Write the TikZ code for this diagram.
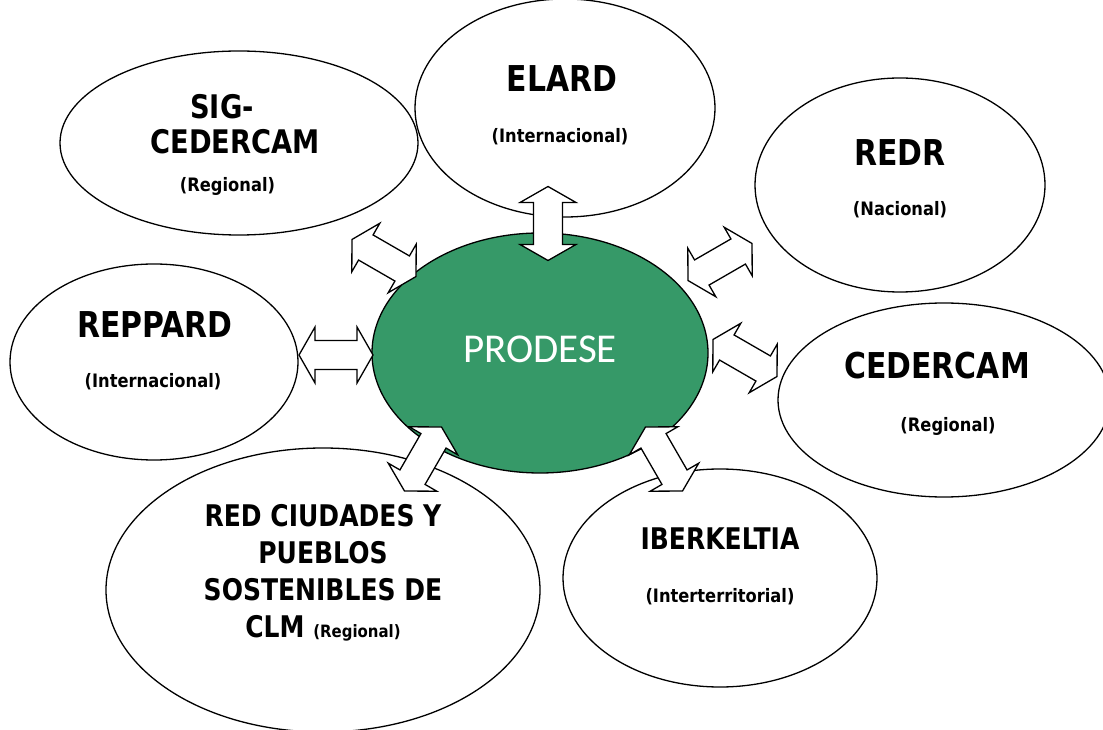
\documentclass[tikz,border=0pt]{standalone}
\usepackage{fontspec}
\newfontfamily\tahfont{DejaVu Sans Bold}[FakeStretch=0.88]
\newfontfamily\tahnarrow{DejaVu Sans Bold}[FakeStretch=0.84]
\newfontfamily\carlitofont{Carlito}
\usetikzlibrary{shapes.geometric}
\definecolor{prodgreen}{RGB}{54,153,104}
\tikzset{
  oval/.style={ellipse, draw=black, line width=1.3pt, fill=white, inner sep=0pt},
  lbl/.style={anchor=base, inner sep=0pt, text=black},
  blockarrow/.style={draw=black, fill=white, line width=1.3pt, line join=miter},
}
\newcommand\twoheadblock[3]{%
  \coordinate (#1) at (#2);
  \draw[blockarrow, shift={(#1)}, rotate=#3]
    (-37,0) -- (-21,28) -- (-21,14.5) -- (21,14.5) -- (21,28) -- (37,0)
    -- (21,-28) -- (21,-14.5) -- (-21,-14.5) -- (-21,-28) -- cycle;}
\begin{document}
\begin{tikzpicture}[x=1pt,y=1pt]
\useasboundingbox (0,0) rectangle (1103,729);
\clip (0,0) rectangle (1103,729);
% ellipses
\node[oval, minimum width=300, minimum height=218] (elard) at (565,621) {};
\node[oval, minimum width=358, minimum height=184] (sig) at (239,586) {};
\node[oval, minimum width=290, minimum height=214] (redr) at (900,544) {};
\node[oval, minimum width=288, minimum height=196] (reppard) at (154,367) {};
\node[oval, minimum width=332, minimum height=194] (cedercam) at (944,329) {};
\node[oval, minimum width=434, minimum height=284] (red) at (323,139) {};
\node[oval, minimum width=314, minimum height=218] (iber) at (720,151) {};
\node[oval, fill=prodgreen, minimum width=336, minimum height=240] (prodese) at (540,376) {};
% texts
\node[lbl, font=\tahnarrow\fontsize{35.6}{42}\selectfont] (t-elard) at (562,637) {ELARD};
\node[lbl, font=\tahfont\fontsize{18.5}{22}\selectfont] (s-elard) at (560,586) {(Internacional)};
\node[lbl, font=\tahnarrow\fontsize{32.5}{38}\selectfont] (t-sig1) at (222,610) {SIG-};
\node[lbl, font=\tahnarrow\fontsize{32.5}{38}\selectfont] (t-sig2) at (235,575) {CEDERCAM};
\node[lbl, font=\tahfont\fontsize{18.5}{22}\selectfont] (s-sig) at (227.5,537) {(Regional)};
\node[lbl, font=\tahnarrow\fontsize{35.6}{42}\selectfont] (t-redr) at (900,563) {REDR};
\node[lbl, font=\tahfont\fontsize{18.5}{22}\selectfont] (s-redr) at (900,513) {(Nacional)};
\node[lbl, font=\tahnarrow\fontsize{35.6}{42}\selectfont] (t-reppard) at (155,391) {REPPARD};
\node[lbl, font=\tahfont\fontsize{18.5}{22}\selectfont] (s-reppard) at (153,341) {(Internacional)};
\node[lbl, font=\carlitofont\fontsize{41}{48}\selectfont, text=white] (t-prodese) at (540,366) {PRODESE};
\node[lbl, font=\tahnarrow\fontsize{35.6}{42}\selectfont] (t-cedercam) at (937,350) {CEDERCAM};
\node[lbl, font=\tahfont\fontsize{18.5}{22}\selectfont] (s-cedercam) at (948,297) {(Regional)};
\node[lbl, font=\tahnarrow\fontsize{29.8}{35}\selectfont] (t-red1) at (323,203) {RED CIUDADES Y};
\node[lbl, font=\tahnarrow\fontsize{29.8}{35}\selectfont] (t-red2) at (323,166) {PUEBLOS};
\node[lbl, font=\tahnarrow\fontsize{29.8}{35}\selectfont] (t-red3) at (323,129) {SOSTENIBLES DE};
\node[lbl, font=\tahnarrow\fontsize{29.8}{35}\selectfont] (t-red4) at (323,92) {CLM {\tahfont\fontsize{17}{20}\selectfont(Regional)}};
\node[lbl, font=\tahnarrow\fontsize{29.8}{35}\selectfont] (t-iber) at (720,180) {IBERKELTIA};
\node[lbl, font=\tahfont\fontsize{18.5}{22}\selectfont] (s-iber) at (720,127) {(Interterritorial)};
% double block arrows
\twoheadblock{a-elard}{548,505.5}{90}
\twoheadblock{a-reppard}{336,374}{0}
\twoheadblock{a-sig}{384,471}{-30}
\twoheadblock{a-redr}{720,467}{30}
\twoheadblock{a-cedercam}{745,371}{-30}
\twoheadblock{a-red}{423,270}{60}
\twoheadblock{a-iber}{664,270}{-60}
\end{tikzpicture}
\end{document}
